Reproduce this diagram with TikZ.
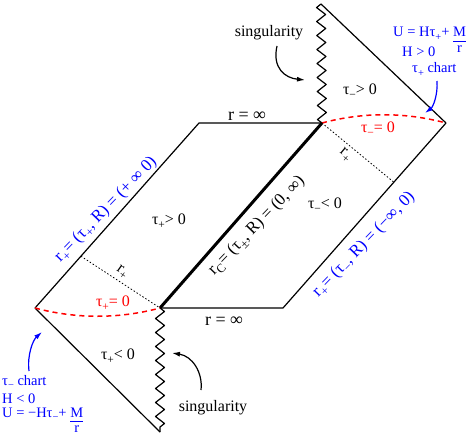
\documentclass[tikz,border=0pt]{standalone}
\usepackage{fontspec}
\setmainfont{Liberation Serif}
\usetikzlibrary{decorations.pathmorphing,arrows.meta,calc}
\newcommand\myfr[2]{{\renewcommand\arraystretch{0.85}\setlength\arrayrulewidth{0.8pt}\begin{tabular}[t]{@{}c@{}}#1\\\hline #2\end{tabular}}}
\newcommand\sub[1]{\raisebox{-0.55ex}{\scalebox{0.72}{#1}}}
\begin{document}
\begin{tikzpicture}[x=1pt,y=-1pt,
  ln/.style={line width=1.2pt,line join=round},
  thk/.style={line width=3pt},
  zz/.style={ln,decorate,decoration={zigzag,segment length=14pt,amplitude=4.5pt}},
  dot/.style={line width=0.8pt,dash pattern=on 1.5pt off 2pt},
  rdash/.style={red,line width=1.5pt,dash pattern=on 5pt off 4pt},
  lbl/.style={font=\fontsize{16}{18}\selectfont,inner sep=0pt},
  big/.style={font=\fontsize{18}{20}\selectfont,inner sep=0pt},
  blu/.style={blue,font=\fontsize{14.5}{17}\selectfont,inner sep=0pt},
  bluerot/.style={blue,font=\fontsize{17}{19}\selectfont,inner sep=0pt},
  arr/.style={line width=1.2pt,-{Latex[length=8pt,width=5pt]}}]
\useasboundingbox (0,0) rectangle (471,436);
% key points
\coordinate (L) at (35,308);
\coordinate (TL) at (199,123);
\coordinate (C1) at (322,123);
\coordinate (R) at (446,123);
\coordinate (C2) at (160,308);
\coordinate (BR) at (283,308);
\coordinate (ST) at (321,4);
\coordinate (SB) at (160,432);
% lines
\draw[ln] (L) -- (TL) -- (C1);
\draw[ln] (R) -- (BR) -- (C2);
\draw[thk] (C2) -- (C1);
\draw[ln] (ST) -- (R);
\draw[ln] (L) -- (SB);
\draw[zz] (C1) -- (ST);
\draw[zz] (C2) -- (SB);
% red horizons
\draw[rdash] (C1) .. controls (363,112) and (405,112) .. (R);
\draw[rdash] (L) .. controls (76,319) and (119,319) .. (C2);
% dotted lines
\coordinate (D1) at ($(L)!0.28!(TL)$);
\coordinate (D2) at ($(BR)!0.68!(R)$);
\draw[dot] (D1) -- (C2);
\draw[dot] (C1) -- (D2);
% labels
\node[lbl,anchor=base] (sing1) at (269,37) {singularity};
\node[lbl,anchor=base] (tmg) at (360,94) {τ\sub{−}> 0};
\node[big,anchor=base] (rinf1) at (247,120) {r = ∞};
\node[lbl,anchor=base,red] (tm0) at (378,132) {τ\sub{−}= 0};
\node[lbl,anchor=base] (tpg) at (169,224) {τ\sub{+}> 0};
\node[lbl,anchor=base] (tml) at (325,208) {τ\sub{−}< 0};
\node[lbl,anchor=base] (tpl) at (118,359) {τ\sub{+}< 0};
\node[lbl,anchor=base,red] (tp0) at (113,306) {τ\sub{+}= 0};
\node[big,anchor=base] (rinf2) at (224,325) {r = ∞};
\node[lbl,anchor=base] (sing2) at (213,411) {singularity};
% blue chart texts
\node[blu,anchor=base west] (u1) at (393,37) {U = Hτ\sub{+}+ \myfr{M}{r}};
\node[blu,anchor=base west] (h1) at (402,57) {H > 0};
\node[blu,anchor=base west] (c1) at (412,73) {τ\sub{+} chart};
\node[blu,anchor=base west] (c2) at (2,385) {τ\sub{−} chart};
\node[blu,anchor=base west] (h2) at (2,403) {H < 0};
\node[blu,anchor=base west] (u2) at (2,417) {U = −Hτ\sub{−}+ \myfr{M}{r}};
% rotated labels
\node[bluerot,rotate=46] (lrp) at (106,210) {r\sub{+}= (τ\sub{+}, R) = (+ ∞ 0)};
\node[bluerot,rotate=46] (rrp) at (364,245) {r\sub{+}= (τ\sub{−}, R) = (−∞, 0)};
\node[lbl,font=\fontsize{17}{19}\selectfont,rotate=46] (rc) at (257,226) {r\sub{C}= (τ\sub{±}, R) = (0, ∞)};
\node[lbl,rotate=-35] (rp1) at (122,272) {r\sub{+}};
\node[lbl,rotate=-40] (rp2) at (345,155) {r\sub{+}};
% arrows
\coordinate (a1s) at (277,46); \coordinate (a1e) at (305,80);
\draw[arr] (a1s) .. controls (272,68) and (285,78) .. (a1e);
\coordinate (a2s) at (201,390); \coordinate (a2e) at (172,353);
\draw[arr] (a2s) .. controls (203,372) and (192,356) .. (a2e);
\coordinate (b1s) at (437,81); \coordinate (b1e) at (425,113);
\draw[arr,blue] (b1s) .. controls (438,95) and (433,107) .. (b1e);
\coordinate (b2s) at (29,371); \coordinate (b2e) at (42,332);
\draw[arr,blue] (b2s) .. controls (27,355) and (33,340) .. (b2e);
\end{tikzpicture}
\end{document}
